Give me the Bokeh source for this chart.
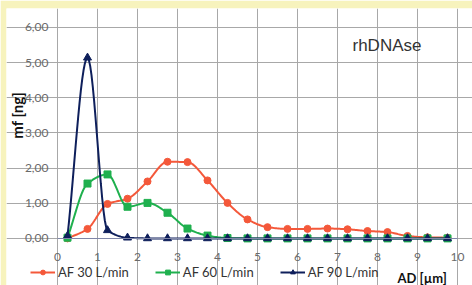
import math
import numpy as np
from bokeh.plotting import figure
from bokeh.models import Range1d, Legend, LegendItem, Label, FixedTicker
from bokeh.core.properties import value
from bokeh.embed import file_html
from bokeh.resources import INLINE

# ---- data ----
ad_um = [0.25, 0.75, 1.25, 1.75, 2.25, 2.75, 3.25, 3.75, 4.25, 4.75,
         5.25, 5.75, 6.25, 6.75, 7.25, 7.75, 8.25, 8.75, 9.25, 9.75]
af30 = [0.00, 0.27, 0.98, 1.13, 1.62, 2.18, 2.17, 1.65, 1.01, 0.54,
        0.32, 0.27, 0.27, 0.28, 0.26, 0.21, 0.18, 0.07, 0.03, 0.02]
af60 = [0.02, 1.56, 1.82, 0.90, 1.01, 0.73, 0.28, 0.08, 0.01, 0.00,
        0.00, 0.00, 0.00, 0.00, 0.00, 0.00, 0.00, 0.00, 0.00, 0.00]
af90 = [0.07, 5.14, 0.23, 0.02, 0.00, 0.00, 0.00, 0.00, 0.00, 0.00,
        0.00, 0.00, 0.00, 0.00, 0.00, 0.00, 0.00, 0.00, 0.00, 0.00]
series_names = ["AF 30 L/min", "AF 60 L/min", "AF 90 L/min"]
x_ticks = [0, 1, 2, 3, 4, 5, 6, 7, 8, 9, 10]
y_ticks = [0, 1, 2, 3, 4, 5, 6]
y_tick_labels = ["0,00", "1,00", "2,00", "3,00", "4,00", "5,00", "6,00"]
title_text = "rhDNAse"
x_title = "AD [µm]"
y_title = "mf [ng]"


def smooth(xs, ys, n=16):
    """Smoothed (monotone cubic) line through the data points."""
    x = np.asarray(xs, float)
    y = np.asarray(ys, float)
    h = np.diff(x)
    delta = np.diff(y) / h
    d = np.zeros_like(y)
    d[0] = delta[0]
    d[-1] = delta[-1]
    for k in range(1, len(y) - 1):
        a, b = delta[k - 1], delta[k]
        if a * b > 0:
            d[k] = 2 * a * b / (a + b)
    ox, oy = [x[0]], [y[0]]
    for k in range(len(y) - 1):
        for t in np.linspace(0, 1, n)[1:]:
            h00 = 2 * t**3 - 3 * t**2 + 1
            h10 = t**3 - 2 * t**2 + t
            h01 = -2 * t**3 + 3 * t**2
            h11 = t**3 - t**2
            ox.append(x[k] + t * h[k])
            oy.append(h00 * y[k] + h10 * h[k] * d[k] + h01 * y[k + 1] + h11 * h[k] * d[k + 1])
    return ox, oy


W, H = 472, 285
# frame covers the white card; data (0..10, 0..6) maps to the reference plot area
p = figure(width=W, height=H, output_backend="svg", toolbar_location=None,
           x_range=Range1d(-1.275, 10.375), y_range=Range1d(-1.34, 6.54),
           min_border_left=6, min_border_right=0, min_border_top=8, min_border_bottom=0)
p.background_fill_color = "white"
p.border_fill_color = "#f7f3bd"
p.outline_line_color = None

font = "Lato"
xa, ya = p.xaxis[0], p.yaxis[0]
xa.fixed_location = 0
ya.fixed_location = 0
for ax in (xa, ya):
    ax.major_tick_line_color = None
    ax.minor_tick_line_color = None
    ax.major_label_text_font = font
    ax.major_label_text_font_size = "12px"
    ax.major_label_text_color = "#6a6a6a"
xa.ticker = FixedTicker(ticks=x_ticks)
ya.ticker = FixedTicker(ticks=y_ticks)
xa.bounds = (x_ticks[0], x_ticks[-1])
ya.bounds = (y_ticks[0], y_ticks[-1])
xa.axis_line_color = "#7f86a8"
ya.axis_line_color = None
ya.major_label_overrides = {t: s for t, s in zip(y_ticks, y_tick_labels)}
xa.major_label_standoff = 9
ya.major_label_standoff = 3

p.xgrid.ticker = FixedTicker(ticks=x_ticks)
p.ygrid.ticker = FixedTicker(ticks=y_ticks)
p.xgrid.bounds = (y_ticks[0], y_ticks[-1])
p.ygrid.bounds = (x_ticks[0], x_ticks[-1])
p.xgrid.grid_line_color = "#a8a8a8"
p.ygrid.grid_line_color = "#a8a8a8"

colors = ["#f4583a", "#1fb04e", "#0e1f5b"]
markers = ["circle", "square", "triangle"]
msizes = [7, 7, 8]
items = []
for name, ys, c, mk, ms in zip(series_names, [af30, af60, af90], colors, markers, msizes):
    sx, sy = smooth(ad_um, ys)
    lr = p.line(sx, sy, line_color=c, line_width=2)
    sr = p.scatter(ad_um, ys, marker=mk, size=ms, fill_color=c, line_color=c)
    items.append(LegendItem(label=name, renderers=[lr, sr]))

legend = Legend(items=items, orientation="horizontal", location=(24, 5),
                glyph_width=25, glyph_height=12, label_standoff=3, spacing=26,
                padding=0, margin=0, border_line_color=None,
                background_fill_alpha=0,
                label_text_font=font, label_text_font_size="13px",
                label_text_color="#333333")
p.add_layout(legend, "center")

# y-axis title (rotated text glyph in the left margin of the card)
p.text(x=[-1.02], y=[3.5], text=[y_title], angle=math.pi / 2,
       text_align="center", text_baseline="middle",
       text_font=value(font), text_font_style="bold", text_font_size="15px",
       text_color="#111111")

p.add_layout(Label(x=8.5, y=-1.12, text=x_title,
                   text_align="left", text_baseline="middle",
                   text_font=font, text_font_style="bold", text_font_size="13px",
                   text_color="#111111"))
p.add_layout(Label(x=7.375, y=5.48, text=title_text,
                   text_align="left", text_baseline="middle",
                   text_font="Liberation Sans", text_font_size="17px",
                   text_color="#333333"))

open("out.html", "w").write(file_html(p, INLINE))
